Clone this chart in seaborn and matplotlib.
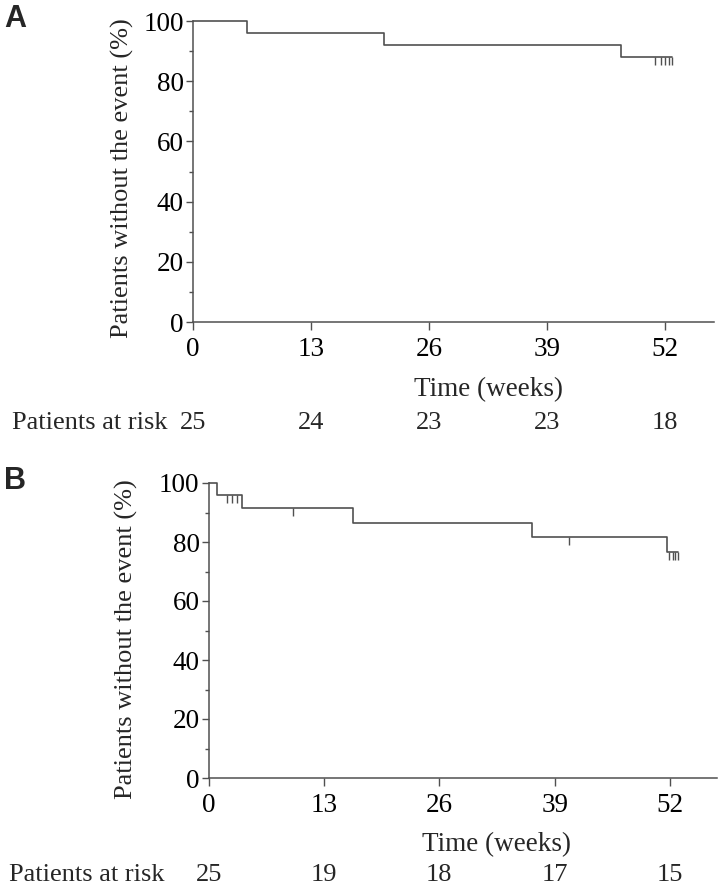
import matplotlib
matplotlib.use("Agg")

import matplotlib.pyplot as plt
import matplotlib.transforms as mtransforms
import seaborn as sns

# ---------------------------------------------------------
# Data
# ---------------------------------------------------------

weeks_ticks = [0, 13, 26, 39, 52]

# Panel A
a_time = [0, 6.0, 21.0, 47.2, 52.8]
a_surv = [100, 96, 92, 88, 88]
a_cens_time = [50.9, 51.6, 52.0, 52.4, 52.8]
a_cens_surv = [88, 88, 88, 88, 88]
a_at_risk = [25, 24, 23, 23, 18]

# Panel B
b_time = [0, 1.0, 3.8, 16.3, 36.5, 51.7, 52.9]
b_surv = [100, 96, 91.4, 86.6, 81.8, 76.5, 76.5]
b_cens_time = [2.1, 2.6, 3.2, 9.5, 40.6, 51.9, 52.3, 52.6, 52.9]
b_cens_surv = [96, 96, 96, 91.4, 81.8, 76.5, 76.5, 76.5, 76.5]
b_at_risk = [25, 19, 18, 17, 15]

# ---------------------------------------------------------
# Style
# ---------------------------------------------------------

sns.set_theme(style="ticks")
plt.rcParams["font.family"] = ["Liberation Serif", "DejaVu Serif"]
plt.rcParams["axes.edgecolor"] = "#505050"
plt.rcParams["axes.linewidth"] = 1.1
plt.rcParams["xtick.color"] = "#505050"
plt.rcParams["ytick.color"] = "#505050"
plt.rcParams["xtick.labelcolor"] = "black"
plt.rcParams["ytick.labelcolor"] = "black"

line_color = "#505050"

fig = plt.figure(figsize=(7.2, 8.92), dpi=100)

# axes positions in figure pixels: (left, right, y of 100, y of 0)
panels = [
    dict(px=(193, 714, 21, 322), time=a_time, surv=a_surv,
         ct=a_cens_time, cs=a_cens_surv, risk=a_at_risk, xmax=57.4,
         letter="A", letter_y=19, ylab_x=134, ylab_y=178.5,
         xlab=(489, 390), risk_y=423, risk_lab_x=11.5),
    dict(px=(208.6, 717, 483, 778), time=b_time, surv=b_surv,
         ct=b_cens_time, cs=b_cens_surv, risk=b_at_risk, xmax=57.3,
         letter="B", letter_y=481, ylab_x=138, ylab_y=639,
         xlab=(496.5, 845), risk_y=875, risk_lab_x=9),
]

W, H = 720, 892

for p in panels:
    left, right, top, bottom = p["px"]
    ax = fig.add_axes([left / W, 1 - bottom / H, (right - left) / W, (bottom - top) / H])
    w_px = right - left
    h_px = bottom - top

    sns.lineplot(
        x=p["time"], y=p["surv"], drawstyle="steps-post",
        color=line_color, linewidth=1.2, estimator=None, ax=ax,
    )
    for ln in ax.lines:
        ln.set_clip_on(False)

    # censored observations
    ax.plot(p["ct"], p["cs"], linestyle="none", marker=3, markersize=6,
            markeredgewidth=1.0, color=line_color, clip_on=False)

    ax.set_xlim(0, p["xmax"])
    ax.set_ylim(0, 100)
    ax.set_xticks(weeks_ticks)
    ax.set_yticks([0, 20, 40, 60, 80, 100])
    ax.set_yticks([10, 30, 50, 70, 90], minor=True)
    ax.tick_params(axis="x", length=6, width=1.0, pad=5, labelsize=19.5)
    ax.tick_params(axis="y", which="major", length=5, width=1.0, pad=1.5, labelsize=19.5)
    ax.tick_params(axis="y", which="minor", length=3, width=1.0)
    sns.despine(ax=ax)

    ax.set_ylabel("Patients without the event (%)", fontsize=19)
    ax.yaxis.set_label_coords((p["ylab_x"] - left) / w_px, (bottom - p["ylab_y"]) / h_px)

    ax.set_xlabel("Time (weeks)", fontsize=19.5, va="center")
    ax.xaxis.set_label_coords((p["xlab"][0] - left) / w_px, (bottom - p["xlab"][1]) / h_px)

    # number at risk row
    ry = (bottom - p["risk_y"]) / h_px
    trans = mtransforms.blended_transform_factory(ax.transData, ax.transAxes)
    for wk, n in zip(weeks_ticks, p["risk"]):
        ax.text(wk, ry, str(n), transform=trans, ha="center", va="center",
                fontsize=19, clip_on=False)
    ax.text((p["risk_lab_x"] - left) / w_px, ry, "Patients at risk",
            transform=ax.transAxes, ha="left", va="center", fontsize=19)

    fig.text(15 / W, 1 - p["letter_y"] / H, p["letter"], ha="center", va="center",
             fontsize=22, fontweight="bold", family="Liberation Sans")

fig.savefig("out.png", dpi=100)
plt.close(fig)
